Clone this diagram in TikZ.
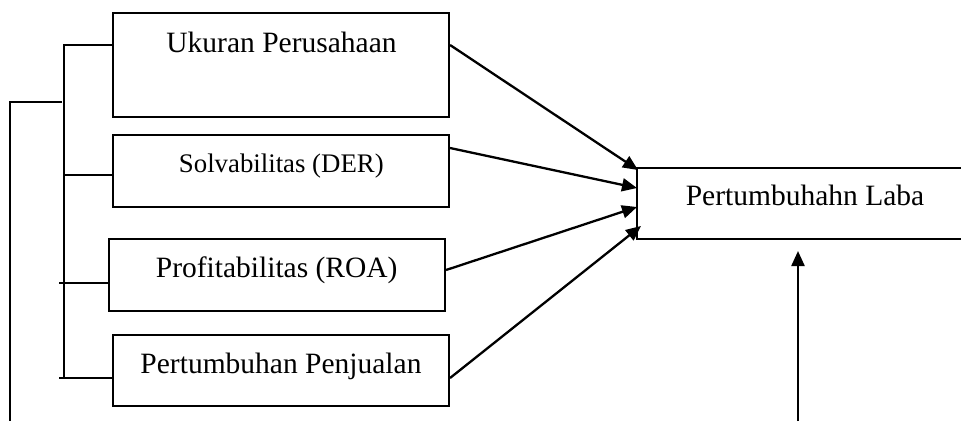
\documentclass[tikz,border=0pt]{standalone}
\usepackage{fontspec}
\setmainfont{Liberation Serif}
\usetikzlibrary{arrows.meta}
\begin{document}
\begin{tikzpicture}[x=1pt,y=-1pt,
  boxnode/.style={draw,line width=2.1pt,inner sep=0pt,minimum width=336pt},
  lbl/.style={anchor=base,inner sep=0pt,font=\fontsize{29.5}{32}\selectfont},
  lblsmall/.style={anchor=base,inner sep=0pt,font=\fontsize{26.8}{30}\selectfont},
  ln/.style={line width=2.1pt},
  arr/.style={line width=2.3pt,-{Triangle[length=15pt,width=13pt]}}]
\useasboundingbox (0,0) rectangle (961,421);
% boxes
\node[boxnode,minimum height=104pt] (b1) at (281,65) {};
\node[boxnode,minimum height=72pt] (b2) at (281,171) {};
\node[boxnode,minimum height=72pt] (b3) at (277,275) {};
\node[boxnode,minimum height=71pt] (b4) at (281,370.5) {};
\node[inner sep=0pt,minimum width=325pt,minimum height=71pt] (t) at (799.5,203.5) {};
\draw[ln] (t.north east) -- (t.north west) -- (t.south west) -- (t.south east);
% texts
\node[lbl] (l1) at (281.5,52) {Ukuran Perusahaan};
\node[lblsmall] (l2) at (281.3,172) {Solvabilitas (DER)};
\node[lbl] (l3) at (276.7,277) {Profitabilitas (ROA)};
\node[lbl] (l4) at (281,373) {Pertumbuhan Penjualan};
\node[lbl] (l5) at (805,205) {Pertumbuhahn Laba};
% bracket
\coordinate (s1) at (64,45);
\coordinate (s2) at (64,175);
\coordinate (s3) at (59,283);
\coordinate (s4) at (59,378);
\coordinate (vtop) at (64,44);
\coordinate (vbot) at (64,379);
\draw[ln] (vtop) -- (vbot);
\draw[ln] (s1) -- (s1 -| b1.west);
\draw[ln] (s2) -- (s2 -| b2.west);
\draw[ln] (s3) -- (s3 -| b3.west);
\draw[ln] (s4) -- (s4 -| b4.west);
\coordinate (o1) at (62,102);
\coordinate (o2) at (10,102);
\coordinate (o3) at (10,421);
\draw[ln] (o1) -- (o2) -- (o3);
% arrows
\coordinate (a1) at (638,170);
\coordinate (a2) at (637,188);
\coordinate (a3) at (637,207);
\coordinate (a4) at (641,226);
\draw[arr] (b1.east |- 0,45) -- (a1);
\draw[arr] (b2.east |- 0,148) -- (a2);
\draw[arr] (b3.east |- 0,270) -- (a3);
\draw[arr] (b4.east |- 0,378) -- (a4);
\coordinate (bb) at (798,421);
\draw[arr] (bb) -- (798,251);
\end{tikzpicture}
\end{document}
